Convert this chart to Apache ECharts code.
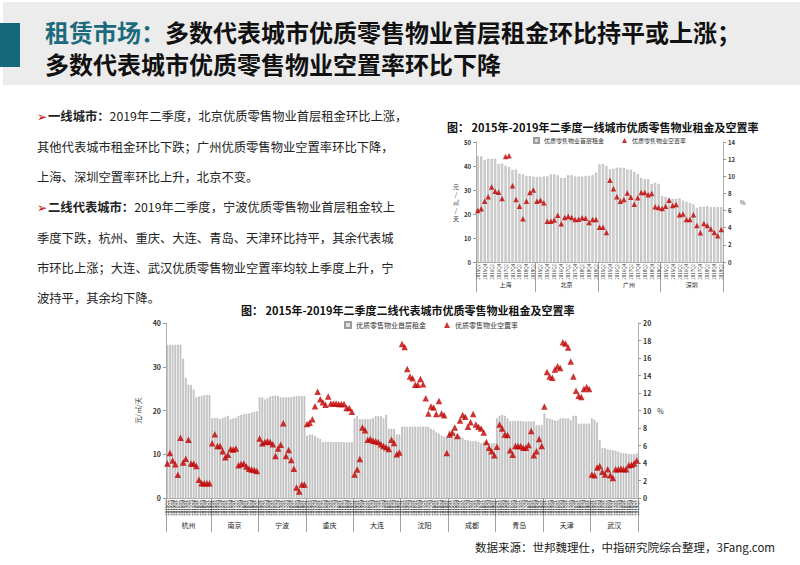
<!DOCTYPE html>
<html><head><meta charset="utf-8">
<script src="https://cdn.jsdelivr.net/npm/echarts@6/dist/echarts.min.js"></script>
<style>
body{margin:0;width:800px;height:565px;background:#fff;position:relative;overflow:hidden;font-family:'Noto Sans CJK SC',sans-serif;}
#hdr{position:absolute;left:3px;top:2px;width:797px;height:83px;background:#ececec;}
#bar{position:absolute;left:0;top:23px;width:20px;height:44px;background:#13687a;}
.tl{position:absolute;left:45px;font-size:24px;font-weight:bold;color:#111;white-space:nowrap;line-height:28px;}
#t1{top:18px}#t2{top:50px}
.teal{color:#1b6b7c}
#txt{position:absolute;left:37px;top:101px;font-size:12.3px;line-height:30px;color:#222;white-space:nowrap}
.arr{color:#c00000;font-family:'DejaVu Sans';font-size:12px;margin-right:1px}
#src{position:absolute;left:475px;top:539px;font-size:11.5px;color:#222;white-space:nowrap}
#c{position:absolute;left:0;top:0;width:800px;height:565px}
</style></head>
<body>
<div id="hdr"></div><div id="bar"></div>
<div class="tl" id="t1"><span class="teal">租赁市场：</span>多数代表城市优质零售物业首层租金环比持平或上涨；</div>
<div class="tl" id="t2">多数代表城市优质零售物业空置率环比下降</div>
<div id="txt">
<div><span class="arr">➢</span><b>一线城市：</b>2019年二季度，北京优质零售物业首层租金环比上涨，</div>
<div>其他代表城市租金环比下跌；广州优质零售物业空置率环比下降，</div>
<div>上海、深圳空置率环比上升，北京不变。</div>
<div><span class="arr">➢</span><b>二线代表城市：</b>2019年二季度，宁波优质零售物业首层租金较上</div>
<div>季度下跌，杭州、重庆、大连、青岛、天津环比持平，其余代表城</div>
<div>市环比上涨；大连、武汉优质零售物业空置率均较上季度上升，宁</div>
<div>波持平，其余均下降。</div>
</div>
<div id="src">数据来源：世邦魏理仕，中指研究院综合整理，3Fang.com</div>
<div id="c"></div>
<script>
// ---- tick labels ----
const quarters = ['2015Q1','2015Q2','2015Q3','2015Q4','2016Q1','2016Q2','2016Q3','2016Q4','2017Q1','2017Q2','2017Q3','2017Q4','2018Q1','2018Q2','2018Q3','2018Q4','2019Q1','2019Q2'];
const seriesNames = ['优质零售物业首层租金','优质零售物业空置率'];

// ---- tier-1 cities ----
const tier1Cities = ['上海','北京','广州','深圳'];
const shRent = [44,44,42.5,43,43,43,40.8,41,40,39.5,38.3,38.5,36.8,36.5,35.8,35.8,35.5];
const shVac  = [6.0,6.2,7.1,7.6,8.75,8.25,8.15,7.4,12.3,12.4,8.9,7.3,6.5,5.05,7.1,8.1,8.4];
const bjRent = [35.3,35.4,35.6,35.7,36.5,36.5,36.1,34.9,35.0,36.1,36.1,35.6,35.6,35.6,35.8,35.9,36.1,37.2];
const bjVac  = [7.1,7.2,6.9,4.75,4.75,4.9,5.45,4.45,5.2,5.35,5.2,4.95,5.0,5.15,5.1,4.6,4.95,4.95];
const gzRent = [40.6,40.8,40.0,38.5,38.8,39.3,39.3,39.2,38.5,38.3,37.5,36.6,35.0,34.5,34.5,32.5,33.0,32.5];
const gzVac  = [4.05,4.05,3.45,9.55,8.55,7.6,7.1,7.3,8.05,7.55,6.75,7.5,8.1,8.1,7.85,8.0,6.45,6.35];
const szRent = [27.5,27.0,26.5,26.3,26.3,26.5,25.5,25.0,24.5,24.0,22.5,23.0,23.0,23.2,22.8,22.8,22.8,22.8];
const szVac  = [6.25,6.5,7.2,6.6,6.7,5.5,5.6,4.95,4.95,5.5,4.25,3.4,4.5,4.25,3.85,3.45,3.05,3.8];

// ---- tier-2 cities ----
const tier2Cities = ['杭州','南京','宁波','重庆','大连','沈阳','成都','青岛','天津','武汉'];
const hzRent = [35,35,35,35,35,35,31.8,27.5,25.9,25.8,24.8,23.0,23.2,23.3,23.5,23.5,23.5];
const hzVac  = [3.95,5.15,4.3,3.85,2.65,6.9,4.05,4.5,6.65,3.95,3.95,3.65,2.1,1.7,1.7,1.7,1.7];
const njRent = [18.2,18.3,18.3,18.0,18.3,18.5,18.8,18.0,18.2,18.3,18.8,19.0,19.2,19.2,19.3,19.5,19.7,19.8];
const njVac  = [6.25,7.3,5.95,5.95,5.35,4.65,4.95,5.6,5.55,5.65,3.75,3.9,3.95,3.6,3.35,3.25,3.2,3.1];
const nbRent = [23.0,23.0,22.5,22.8,23.2,23.3,23.4,23.3,23.0,23.0,23.0,23.0,23.0,23.2,23.2,23.3,23.3,23.3];
const nbVac  = [6.8,6.25,6.4,6.5,6.4,6.15,4.8,5.65,6.1,8.55,4.8,5.5,4.35,3.35,1.2,0.75,1.55,1.55];
const cqRent = [14.2,14.5,14.5,14.2,13.8,13.5,12.8,12.8,12.8,12.8,12.8,12.8,12.8,12.8,12.7,12.7,12.7,12.8];
const cqVac  = [8.45,8.6,9.0,10.5,12.15,11.3,10.95,10.65,11.6,10.8,10.8,10.8,10.75,10.75,10.75,10.3,10.3,9.85];
const dlRent = [18.2,18.7,18.0,18.0,18.0,18.0,18.0,18.2,18.7,18.7,18.7,18.2,19.0,15.8,15.8,15.8,14.5,14.5];
const dlVac  = [2.7,3.25,4.45,8.05,7.75,6.65,6.75,6.55,6.5,6.4,6.15,5.95,5.8,5.6,6.65,6.3,5.0,5.2];
const syRent = [16.3,16.3,16.2,16.3,16.3,16.3,16.3,16.3,16.3,16.3,16.3,15.8,15.6,15.0,14.7,14.3,14.0,14.0];
const syVac  = [17.6,17.25,14.75,13.9,13.7,12.95,12.95,13.6,13.0,11.4,9.65,10.45,10.35,9.6,11.1,9.65,9.45,5.15];
const cdRent = [15.5,15.3,15.0,14.6,14.2,13.8,13.3,13.2,13.0,13.0,13.0,12.8,12.5,12.8,12.8,12.5,12.5,12.5];
const cdVac  = [7.25,7.5,8.05,7.1,8.85,9.5,9.3,8.15,8.65,9.6,8.4,8.15,7.95,7.5,6.4,5.75,5.35,4.9];
const qdRent = [18.2,18.8,19.0,18.8,18.2,17.6,17.6,17.6,17.6,17.6,17.5,17.5,17.5,17.5,17.5,16.6,16.6,16.6];
const qdVac  = [5.85,8.4,7.95,7.25,7.2,5.45,4.95,5.95,5.95,5.95,5.75,5.75,6.05,7.65,4.9,5.35,6.75,5.95];
const tjRent = [19.3,18.2,18.1,17.9,17.7,17.7,18.2,18.2,18.2,18.2,17.8,18.8,18.8,17.0,17.0,17.0,17.0,17.0];
const tjVac  = [10.45,14.4,13.9,13.75,14.7,15.05,14.85,17.8,17.65,17.2,15.6,13.9,12.25,11.7,11.55,12.45,12.7,12.45];
const whRent = [18.2,17.9,17.3,13.2,11.4,11.4,11.1,11.0,10.9,10.8,10.6,10.3,10.2,10.2,10.0,10.0,10.0,10.2];
const whVac  = [2.7,2.6,3.5,3.65,3.0,2.7,3.3,2.6,2.3,3.3,3.3,3.35,3.3,3.3,3.75,3.8,3.95,4.3];

function assemble(names, rents, vacs){
  const cats=[], rent=[], vac=[], bounds=[0], centers=[];
  names.forEach((n,i)=>{
    const r=rents[i], v=vacs[i], qs=quarters.slice(quarters.length-r.length);
    const start=cats.length;
    qs.forEach((q,j)=>{cats.push(n+'|'+q); rent.push(r[j]); vac.push(v[j]);});
    bounds.push(cats.length);
    centers.push((start+cats.length)/2);
  });
  return {cats,rent,vac,bounds,centers,names};
}
const T1 = assemble(tier1Cities,[shRent,bjRent,gzRent,szRent],[shVac,bjVac,gzVac,szVac]);
const T2 = assemble(tier2Cities,[hzRent,njRent,nbRent,cqRent,dlRent,syRent,cdRent,qdRent,tjRent,whRent],[hzVac,njVac,nbVac,cqVac,dlVac,syVac,cdVac,qdVac,tjVac,whVac]);

const FF = "'Noto Sans CJK SC', sans-serif";
const axisGray = '#9a9a9a';

function cityAxis(d, gridIndex, tickLen, margin, fs){
  return {type:'value', gridIndex, position:'bottom', min:0, max:d.cats.length,
    axisLine:{show:false}, splitLine:{show:false},
    axisTick:{show:true, customValues:d.bounds, length:tickLen, lineStyle:{color:'#8a8a8a', width:0.8}},
    axisLabel:{customValues:d.centers, margin, fontSize:fs, color:'#222', fontFamily:FF,
      formatter:(v)=>{const k=d.centers.findIndex(c=>Math.abs(c-v)<1e-6); return k>=0?d.names[k]:'';}}};
}
function catAxis(d, gridIndex, interval, fs){
  return {type:'category', gridIndex, position:'bottom', data:d.cats,
    axisLine:{lineStyle:{color:axisGray, width:0.8}}, axisTick:{show:false},
    axisLabel:{interval, rotate:90, fontSize:fs, margin:2, color:'#333', fontFamily:FF,
      formatter:(v)=>v.split('|')[1]}};
}
function yAx(gridIndex, pos, max, interval, fs, name, nameRotate, nameGap, lh){
  return {type:'value', gridIndex, position:pos, min:0, max, interval,
    axisLine:{show:true, lineStyle:{color:axisGray, width:0.8}},
    axisTick:{show:true, length:3, lineStyle:{color:axisGray}},
    splitLine:{show:false},
    axisLabel:{fontSize:fs, fontWeight:'bold', color:'#333', margin:5, fontFamily:FF},
    name, nameLocation:'middle', nameRotate, nameGap,
    nameTextStyle:{fontSize:fs, color:'#333', fontFamily:FF, lineHeight:lh || (fs+1), align:'center', verticalAlign:'middle'}};
}

const option = {
  animation:false,
  textStyle:{fontFamily:FF},
  title:[
    {text:'图： 2015年-2019年二季度一线城市优质零售物业租金及空置率', left:442, top:116,
     textStyle:{fontSize:11, fontWeight:'bold', color:'#111', fontFamily:FF}},
    {text:'图： 2015年-2019年二季度二线代表城市优质零售物业租金及空置率', left:236, top:299,
     textStyle:{fontSize:11, fontWeight:'bold', color:'#111', fontFamily:FF}}
  ],
  legend:[
    {top:132, left:528, itemWidth:5, itemHeight:5, itemGap:18, textStyle:{fontSize:6, color:'#333'},
     data:[{name:seriesNames[0], icon:'rect'},{name:seriesNames[1], icon:'triangle'}]},
    {top:316, left:339, itemWidth:6, itemHeight:6, itemGap:18, textStyle:{fontSize:7, color:'#333'},
     data:[{name:seriesNames[0], icon:'rect'},{name:seriesNames[1], icon:'triangle'}]}
  ],
  grid:[
    {left:476, top:142, width:247, height:120},
    {left:166, top:323, width:472, height:175}
  ],
  xAxis:[
    catAxis(T1,0,1,4.5),
    cityAxis(T1,0,30,19,6),
    catAxis(T2,1,0,4.5),
    cityAxis(T2,1,34,23,7)
  ],
  yAxis:[
    yAx(0,'left',50,10,6,'元\n/\n㎡\n/\n天',360,17,8),
    yAx(0,'right',14,2,6,'%',360,14),
    yAx(1,'left',40,10,7,'元/㎡/天',90,15),
    yAx(1,'right',20,2,7,'%',360,17)
  ],
  series:[
    {name:seriesNames[0], type:'bar', xAxisIndex:0, yAxisIndex:0, data:T1.rent, barWidth:'58%',
     itemStyle:{color:'#dedede', borderColor:'#9c9c9c', borderWidth:0.5}},
    {name:seriesNames[1], type:'scatter', xAxisIndex:0, yAxisIndex:1, data:T1.vac, symbol:'triangle', symbolSize:5.5,
     itemStyle:{color:'#c00000'}, z:5},
    {name:seriesNames[0], type:'bar', xAxisIndex:2, yAxisIndex:2, data:T2.rent, barWidth:'58%',
     itemStyle:{color:'#dedede', borderColor:'#9c9c9c', borderWidth:0.5}},
    {name:seriesNames[1], type:'scatter', xAxisIndex:2, yAxisIndex:3, data:T2.vac, symbol:'triangle', symbolSize:6.5,
     itemStyle:{color:'#c00000'}, z:5}
  ]
};
const chart = echarts.init(document.getElementById('c'), null, {renderer:'svg', width:800, height:565});
chart.setOption(option);
</script>
</body></html>
